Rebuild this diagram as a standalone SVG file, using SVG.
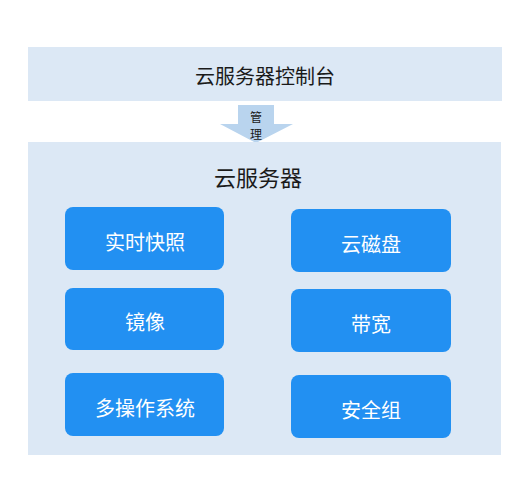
<svg xmlns="http://www.w3.org/2000/svg" width="525" height="500" viewBox="0 0 525 500">
<style>
.panel{fill:#dce8f5}
.box{fill:#2290f2}
.bt{font-family:"Noto Sans CJK SC","Liberation Sans",sans-serif;font-size:20px;fill:#ffffff;text-anchor:middle;dominant-baseline:central}
.dt{font-family:"Noto Sans CJK SC","Liberation Sans",sans-serif;fill:#1a1a1a;text-anchor:middle;dominant-baseline:central}
</style>
<rect width="525" height="500" fill="#ffffff"/>
<g id="console">
<rect class="panel" x="28" y="47" width="474" height="54"/>
<text class="dt" x="265" y="75" font-size="20">云服务器控制台</text>
</g>
<g id="connectors">
<polygon points="238,105 274,105 274,124 293,124 256,143 220,124 238,124" fill="#b9d4ee"/>
<text class="dt" x="256" y="116" font-size="12">管</text>
<text class="dt" x="256" y="133" font-size="12">理</text>
</g>
<g id="server">
<rect class="panel" x="28" y="142" width="473" height="313"/>
<text class="dt" x="258" y="176" font-size="22">云服务器</text>
</g>
<g id="snapshot"><rect class="box" x="65" y="207" width="159" height="63" rx="8"/><text class="bt" x="145" y="241">实时快照</text></g>
<g id="image"><rect class="box" x="65" y="288" width="159" height="62" rx="8"/><text class="bt" x="145" y="321">镜像</text></g>
<g id="os"><rect class="box" x="65" y="373" width="159" height="63" rx="8"/><text class="bt" x="145" y="407">多操作系统</text></g>
<g id="disk"><rect class="box" x="291" y="209" width="160" height="63" rx="8"/><text class="bt" x="371" y="243">云磁盘</text></g>
<g id="bandwidth"><rect class="box" x="291" y="289" width="160" height="63" rx="8"/><text class="bt" x="371" y="323">带宽</text></g>
<g id="secgroup"><rect class="box" x="291" y="375" width="160" height="63" rx="8"/><text class="bt" x="371" y="409">安全组</text></g>
</svg>
